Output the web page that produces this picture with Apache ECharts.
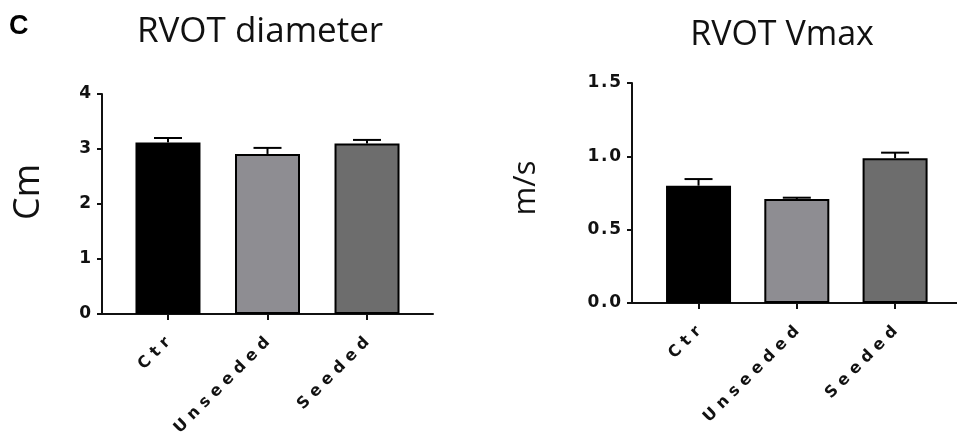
<!DOCTYPE html>
<html>
<head>
<meta charset="utf-8">
<script src="https://cdn.jsdelivr.net/npm/echarts@6/dist/echarts.min.js"></script>
<style>html,body{margin:0;padding:0;background:#fff}#c{width:957px;height:434px}</style>
</head>
<body>
<div id="c"></div>
<script>
const categories = ['Ctr', 'Unseeded', 'Seeded'];
const barColors = ['#000000', '#8e8d92', '#6d6d6d'];
const diameterMean = [3.12, 2.91, 3.10];
const diameterErr = [0.08, 0.11, 0.065];
const vmaxMean = [0.80, 0.709, 0.987];
const vmaxErr = [0.045, 0.009, 0.038];
const diameterTicks = [0, 1, 2, 3, 4];
const vmaxTicks = [0, 0.5, 1.0, 1.5];

const spaced = (s, sp) => s.split('').join(sp);
const idx = categories.map((_, i) => i);

function barData(means) {
  return means.map((v, i) => ({ value: [i, v], itemStyle: { color: barColors[i] } }));
}
function errData(means, errs) {
  return means.map((v, i) => [i, v, v + errs[i]]);
}
function errRender(params, api) {
  const x = api.value(0);
  const lo = api.coord([x, api.value(1)]);
  const hi = api.coord([x, api.value(2)]);
  const hw = 14;
  const st = { stroke: '#000', lineWidth: 2 };
  return {
    type: 'group',
    children: [
      { type: 'line', shape: { x1: lo[0], y1: lo[1], x2: hi[0], y2: hi[1] }, style: st },
      { type: 'line', shape: { x1: hi[0] - hw, y1: hi[1], x2: hi[0] + hw, y2: hi[1] }, style: st }
    ]
  };
}

const tickFamily = 'DejaVu Sans';
const axisLineStyle = { show: true, onZero: false, lineStyle: { color: '#111', width: 2 } };
const tickFont = { fontFamily: tickFamily, fontWeight: 'bold', color: '#111' };

function xAxis(gridIndex, min, max) {
  return {
    type: 'value', gridIndex, min, max,
    axisLine: axisLineStyle,
    splitLine: { show: false },
    axisTick: { show: true, customValues: idx, length: 6, lineStyle: { color: '#111', width: 2 } },
    axisLabel: {
      customValues: idx, rotate: 45, margin: 26, fontSize: 16, ...tickFont,
      formatter: v => spaced(categories[Math.round(v)], ' ')
    }
  };
}

const option = {
  animation: false,
  backgroundColor: '#fff',
  title: [
    { text: 'RVOT diameter', left: 255, top: 10, textAlign: 'center',
      textStyle: { fontFamily: 'Open Sans', fontWeight: 'normal', fontSize: 35, color: '#111' } },
    { text: 'RVOT Vmax', left: 777, top: 13, textAlign: 'center',
      textStyle: { fontFamily: 'Open Sans', fontWeight: 'normal', fontSize: 34, color: '#111' } }
  ],
  graphic: [
    { type: 'text', left: 9, top: 13,
      style: { text: 'C', fontFamily: 'Liberation Sans', fontWeight: 'bold', fontSize: 27, fill: '#000' } }
  ],
  grid: [
    { left: 102, top: 94, width: 331, height: 220, outerBoundsMode: 'none', containLabel: false },
    { left: 632, top: 83, width: 325, height: 220, outerBoundsMode: 'none', containLabel: false }
  ],
  xAxis: [
    xAxis(0, -0.663, 2.663),
    xAxis(1, -0.677, 2.63)
  ],
  yAxis: [
    {
      type: 'value', gridIndex: 0, min: 0, max: 4, interval: 1,
      name: 'Cm', nameLocation: 'middle', nameRotate: 90, nameGap: 55,
      nameTextStyle: { fontFamily: 'Open Sans', fontSize: 36, color: '#111', padding: [0, 0, 0, 24] },
      axisLine: axisLineStyle, splitLine: { show: false },
      axisTick: { show: true, length: 5, lineStyle: { color: '#111', width: 2 } },
      axisLabel: { margin: 11, fontSize: 17, ...tickFont, formatter: v => String(v) }
    },
    {
      type: 'value', gridIndex: 1, min: 0, max: 1.5, interval: 0.5,
      name: 'm/s', nameLocation: 'middle', nameRotate: 90, nameGap: 90,
      nameTextStyle: { fontFamily: 'Open Sans', fontSize: 31, color: '#111', padding: [0, 0, 0, 10] },
      axisLine: axisLineStyle, splitLine: { show: false },
      axisTick: { show: true, length: 5, lineStyle: { color: '#111', width: 2 } },
      axisLabel: { margin: 11, fontSize: 17, ...tickFont, formatter: v => spaced(v.toFixed(1), '\u200A') }
    }
  ],
  series: [
    { type: 'bar', xAxisIndex: 0, yAxisIndex: 0, barWidth: 65, data: barData(diameterMean),
      itemStyle: { borderColor: '#000', borderWidth: 2 }, z: 2 },
    { type: 'custom', xAxisIndex: 0, yAxisIndex: 0, renderItem: errRender,
      data: errData(diameterMean, diameterErr), encode: { x: 0, y: [1, 2] }, z: 3 },
    { type: 'bar', xAxisIndex: 1, yAxisIndex: 1, barWidth: 65, data: barData(vmaxMean),
      itemStyle: { borderColor: '#000', borderWidth: 2 }, z: 2 },
    { type: 'custom', xAxisIndex: 1, yAxisIndex: 1, renderItem: errRender,
      data: errData(vmaxMean, vmaxErr), encode: { x: 0, y: [1, 2] }, z: 3 }
  ]
};

const chart = echarts.init(document.getElementById('c'), null, { renderer: 'canvas' });
chart.setOption(option);
</script>
</body>
</html>
